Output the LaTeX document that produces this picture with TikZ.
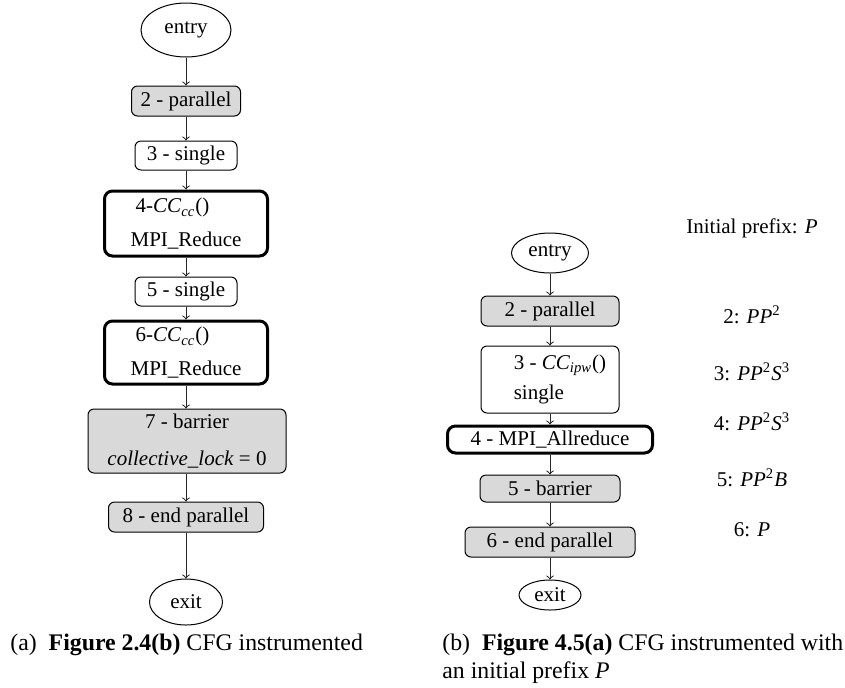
\documentclass[tikz,border=0pt]{standalone}
\usepackage{fontspec}
\setmainfont{Liberation Serif}
\usetikzlibrary{shapes.geometric}

\tikzset{
	blk/.style={draw, rounded corners=3pt, inner sep=0pt, line width=0.5pt},
	ompblk/.style={blk, fill=gray!30},
	collblk/.style={blk, line width=1.5pt, rounded corners=4pt},
	term/.style={draw, ellipse, inner sep=0pt, line width=0.5pt},
	flow/.style={->, line width=0.5pt, draw=black!85},
	plaintext/.style={inner sep=0pt},
	captext/.style={inner sep=0pt, anchor=west, font=\fontsize{11.9}{14}\selectfont}
}

\begin{document}
\begin{tikzpicture}[x=0.5pt, y=-0.5pt, font=\fontsize{10.5}{12.6}\selectfont]
	\useasboundingbox (0,0) rectangle (845,687);
	% (a) left graph
	\node[term, minimum width=45pt, minimum height=27pt] (entryA) at (186,30) {entry};
	\node[ompblk, minimum width=54.5pt, minimum height=15pt] (a2) at (186,101) {2 - parallel};
	\node[blk, minimum width=51pt, minimum height=14.5pt] (a3) at (186,155.5) {3 - single};
	\node[collblk, minimum width=81.5pt, minimum height=32.5pt, align=left] (a4) at (186,223.5)
		{\hspace*{2.5pt}4-\textit{CC}\textsubscript{\textit{cc}}()\\[4pt]MPI\_Reduce};
	\node[blk, minimum width=51pt, minimum height=14.5pt] (a5) at (186,291.5) {5 - single};
	\node[collblk, minimum width=81.5pt, minimum height=31.5pt, align=left] (a6) at (186,352.5)
		{\hspace*{2.5pt}6-\textit{CC}\textsubscript{\textit{cc}}()\\[4pt]MPI\_Reduce};
	\node[ompblk, minimum width=99pt, minimum height=32pt, align=center] (a7) at (187,441)
		{7 - barrier\\[6pt]\textit{collective\_lock} = 0};
	\node[ompblk, minimum width=77.5pt, minimum height=15pt] (a8) at (186,517) {8 - end parallel};
	\node[term, minimum width=36.5pt, minimum height=23pt] (exitA) at (186,602) {exit};
	\draw[flow] (entryA) -- (a2);
	\draw[flow] (a2) -- (a3);
	\draw[flow] (a3) -- (a4);
	\draw[flow] (a4) -- (a5);
	\draw[flow] (a5) -- (a6);
	\draw[flow] (a6) -- (a6 |- a7.north);
	\draw[flow] (a7.south -| a8) -- (a8);
	\draw[flow] (a8) -- (exitA);
	% (b) right graph
	\node[term, minimum width=38.5pt, minimum height=20pt] (entryB) at (550,253) {entry};
	\node[ompblk, minimum width=69pt, minimum height=15pt] (b2) at (550,311) {2 - parallel};
	\node[blk, minimum width=69pt, minimum height=33.5pt, align=left] (b3) at (550,379.5)
		{\hspace*{10pt}3 - \textit{CC}\textsubscript{\textit{ipw}}()\\[2.4pt]\hspace*{10pt}single};
	\node[collblk, minimum width=102.5pt, minimum height=13.5pt] (b4) at (550,439.5) {4 - MPI\_Allreduce};
	\node[ompblk, minimum width=70pt, minimum height=13.5pt] (b5) at (550,488.5) {5 - barrier};
	\node[ompblk, minimum width=85pt, minimum height=15pt] (b6) at (550,542) {6 - end parallel};
	\node[term, minimum width=31pt, minimum height=15pt] (exitB) at (550,595) {exit};
	\draw[flow] (entryB) -- (b2);
	\draw[flow] (b2) -- (b3);
	\draw[flow] (b3) -- (b4);
	\draw[flow] (b4) -- (b5);
	\draw[flow] (b5) -- (b6);
	\draw[flow] (b6) -- (exitB);
	% prefixes
	\node[plaintext] (p0) at (752,228) {Initial prefix: \textit{P}};
	\node[plaintext] (p2) at (752,315) {2: \textit{PP}\textsuperscript{2}};
	\node[plaintext] (p3) at (752,372) {3: \textit{PP}\textsuperscript{2}\textit{S}\textsuperscript{3}};
	\node[plaintext] (p4) at (752,422) {4: \textit{PP}\textsuperscript{2}\textit{S}\textsuperscript{3}};
	\node[plaintext] (p5) at (752,478) {5: \textit{PP}\textsuperscript{2}\textit{B}};
	\node[plaintext] (p6) at (752,530) {6: \textit{P}};
	% captions
	\node[captext] (capA) at (10,645) {(a)\enspace\textbf{Figure 2.4(b)} CFG instrumented};
	\node[captext] (capB) at (442,645) {(b)\enspace\textbf{Figure 4.5(a)} CFG instrumented with};
	\node[captext] (capB2) at (442,673) {an initial prefix \textit{P}};
\end{tikzpicture}
\end{document}
